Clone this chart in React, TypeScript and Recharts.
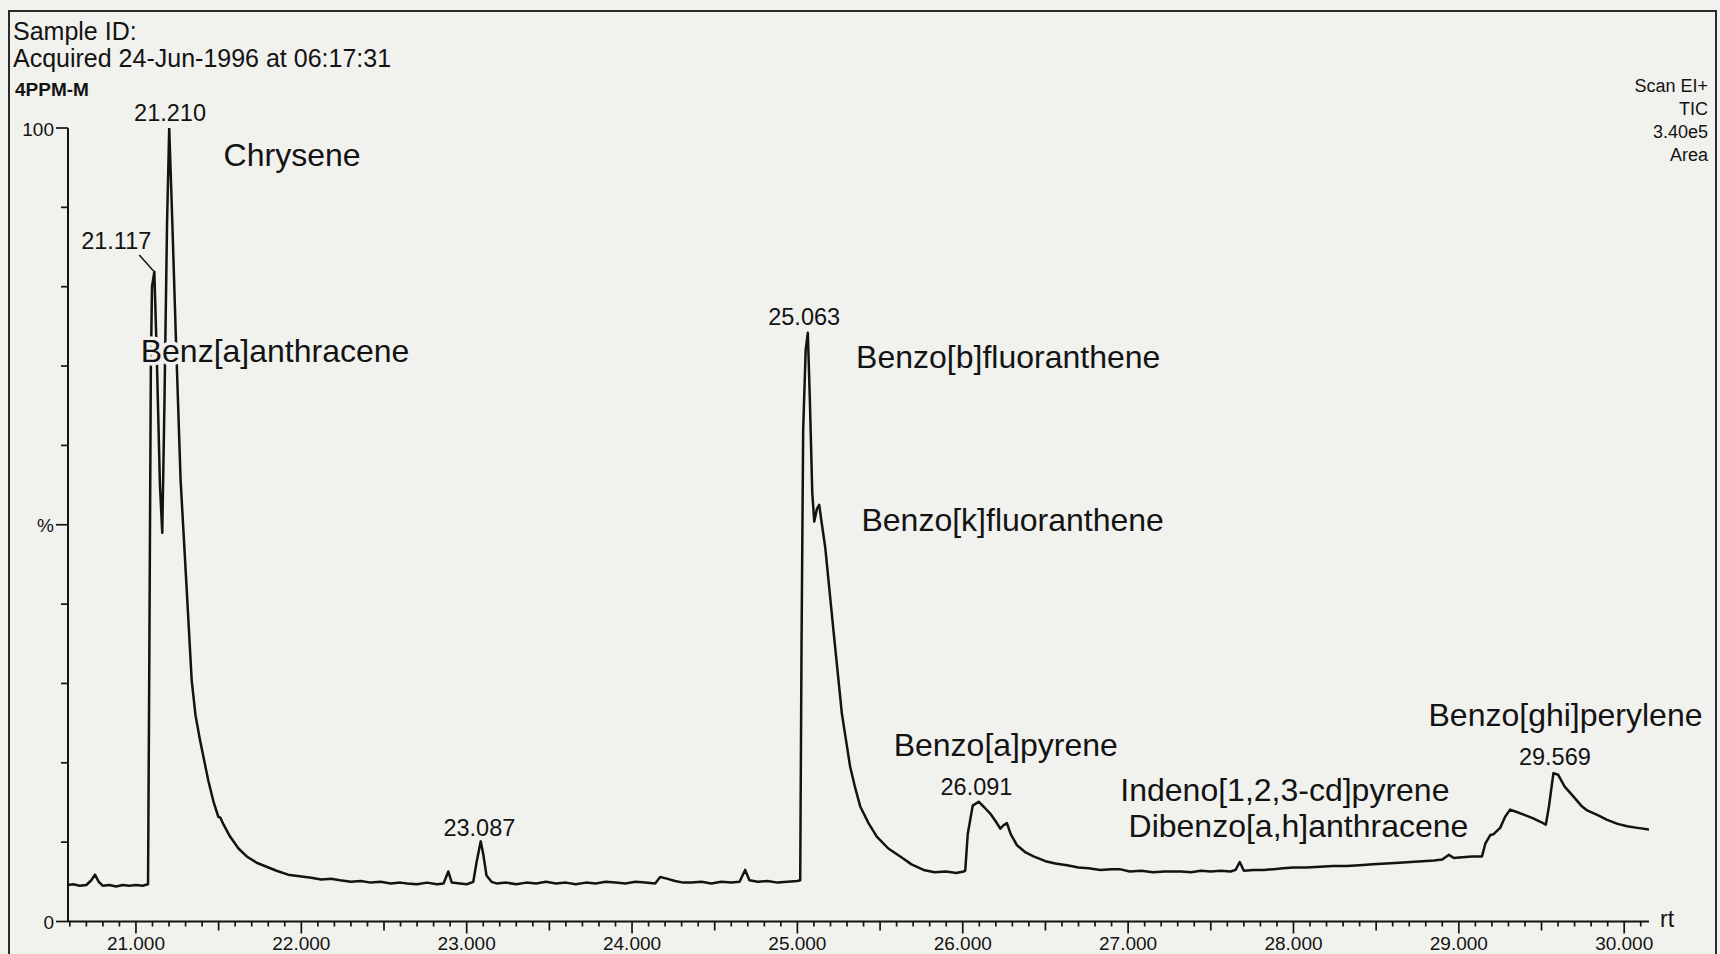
import { Line, LineChart, ReferenceDot, ReferenceLine, XAxis, YAxis } from "recharts";

const PAPER = "#f1f1ee";
const INK = "#131313";
const FONT = "'Liberation Sans', Arial, sans-serif";

// retention time (min)
const RT = [
  20.589, 20.62, 20.66, 20.7, 20.73, 20.752, 20.775, 20.8, 20.84, 20.88, 20.92, 20.96, 21.0, 21.04, 21.073,
  21.08, 21.09, 21.097, 21.111, 21.125, 21.145, 21.159, 21.172, 21.188, 21.201, 21.22, 21.24, 21.27, 21.307,
  21.337, 21.36, 21.387, 21.437, 21.47, 21.498, 21.51, 21.53, 21.569, 21.62, 21.67, 21.73, 21.79, 21.85, 21.92,
  21.99, 22.06, 22.12, 22.18, 22.234, 22.3, 22.36, 22.42, 22.48, 22.54, 22.6, 22.64, 22.7, 22.76, 22.82, 22.86,
  22.889, 22.91, 22.96, 23.0, 23.04, 23.06, 23.085, 23.1, 23.12, 23.15, 23.18, 23.24, 23.3, 23.36, 23.42, 23.48,
  23.54, 23.6, 23.66, 23.72, 23.78, 23.84, 23.9, 23.96, 24.02, 24.08, 24.14, 24.17, 24.21, 24.26, 24.31, 24.36,
  24.42, 24.48, 24.54, 24.6, 24.65, 24.684, 24.71, 24.76, 24.82, 24.88, 24.94, 25.0, 25.017, 25.025, 25.035,
  25.05, 25.063, 25.075, 25.09, 25.102, 25.118, 25.132, 25.145, 25.168, 25.218, 25.269, 25.319, 25.35, 25.38,
  25.43, 25.48, 25.55, 25.622, 25.69, 25.763, 25.83, 25.9, 25.96, 26.005, 26.015, 26.03, 26.06, 26.096, 26.13,
  26.166, 26.2, 26.227, 26.245, 26.267, 26.29, 26.328, 26.38, 26.428, 26.5, 26.56, 26.63, 26.7, 26.76, 26.832,
  26.9, 26.949, 27.01, 27.08, 27.15, 27.22, 27.28, 27.32, 27.38, 27.44, 27.5, 27.56, 27.62, 27.65, 27.675, 27.7,
  27.76, 27.82, 27.88, 27.937, 28.0, 28.08, 28.16, 28.24, 28.32, 28.4, 28.48, 28.56, 28.64, 28.708, 28.78, 28.85,
  28.9, 28.94, 28.97, 29.02, 29.08, 29.14, 29.16, 29.19, 29.21, 29.25, 29.28, 29.31, 29.35, 29.4, 29.45, 29.49,
  29.526, 29.545, 29.572, 29.6, 29.64, 29.695, 29.74, 29.776, 29.84, 29.897, 29.96, 30.018, 30.08, 30.15,
];

// total ion current, % of the largest peak
const TIC = [
  4.6, 4.7, 4.5, 4.6, 5.2, 5.9, 5.0, 4.5, 4.6, 4.4, 4.6, 4.5, 4.6, 4.5, 4.7,
  30, 70, 80, 81.9, 72, 55, 49, 65, 88, 100, 88, 74.5, 55.6, 41.8,
  30.4, 26, 22.9, 17.8, 15, 13.2, 13.1, 12.2, 10.7, 9.2, 8.2, 7.4, 6.9, 6.4, 5.9,
  5.7, 5.5, 5.3, 5.4, 5.2, 5.0, 5.1, 4.9, 5.0, 4.8, 4.9, 4.8, 4.7, 4.9, 4.7, 4.8,
  6.3, 4.9, 4.8, 4.7, 5.0, 7.5, 10.1, 8.5, 5.8, 5.0, 4.8, 4.9, 4.7, 4.9, 4.8, 5.0,
  4.8, 4.9, 4.7, 4.9, 4.8, 5.0, 4.9, 4.8, 5.0, 4.9, 4.8, 5.6, 5.4, 5.1, 4.9, 4.9,
  5.0, 4.8, 5.0, 4.9, 5.0, 6.5, 5.2, 5.0, 5.1, 4.9, 5.0, 5.1, 5.2, 35, 62,
  72, 74.2, 66, 54, 50.4, 52.0, 52.5, 50.5, 47.2, 36.7, 26.2, 19.5, 16.8, 14.5,
  12.4, 10.7, 9.2, 8.2, 7.2, 6.5, 6.2, 6.3, 6.1, 6.3, 6.4, 11, 14.6, 15.1, 14.4,
  13.6, 12.6, 11.7, 12.1, 12.4, 11.0, 9.6, 8.7, 8.2, 7.6, 7.3, 7.1, 6.8, 6.7, 6.5,
  6.6, 6.6, 6.3, 6.4, 6.2, 6.3, 6.3, 6.3, 6.2, 6.4, 6.3, 6.4, 6.3, 6.5, 7.5, 6.4,
  6.5, 6.5, 6.6, 6.7, 6.8, 6.8, 6.9, 7.0, 7.0, 7.1, 7.2, 7.3, 7.4, 7.5, 7.6, 7.7,
  7.8, 8.4, 8.0, 8.1, 8.2, 8.2, 9.8, 10.9, 11.0, 11.8, 13.2, 14.1, 13.8, 13.4, 13.0, 12.6,
  12.2, 14.5, 18.7, 18.5, 17.0, 15.7, 14.6, 14.0, 13.4, 12.8, 12.3, 12.0, 11.8, 11.6,
];

const RT_MAJOR = [21, 22, 23, 24, 25, 26, 27, 28, 29, 30];
const RT_MAJOR_LABELS = ["21.000", "22.000", "23.000", "24.000", "25.000", "26.000", "27.000", "28.000", "29.000", "30.000"];

const PCT_TICKS = [0, 10, 20, 30, 40, 50, 60, 70, 80, 90, 100];
const PCT_LABELS = ["0", "", "", "", "", "%", "", "", "", "", "100"];

// retention times printed at the peak apexes, and where they sit
const PEAK_TEXT = ["21.117", "21.210", "23.087", "25.063", "26.091", "29.569"];
const PEAK_TEXT_RT = [20.881, 21.206, 23.077, 25.041, 26.083, 29.581];
const PEAK_TEXT_PCT = [85.7, 101.9, 11.8, 76.2, 16.9, 20.7];

const COMPOUNDS = [
  "Chrysene",
  "Benz[a]anthracene",
  "Benzo[b]fluoranthene",
  "Benzo[k]fluoranthene",
  "Benzo[a]pyrene",
  "Indeno[1,2,3-cd]pyrene",
  "Dibenzo[a,h]anthracene",
  "Benzo[ghi]perylene",
];
const COMPOUND_RT = [21.944, 21.841, 26.275, 26.302, 26.26, 27.948, 28.03, 29.645];
const COMPOUND_PCT = [96.6, 71.9, 71.1, 50.6, 22.2, 16.6, 12.0, 26.0];

const HEADER_RIGHT = ["Scan EI+", "TIC", "3.40e5", "Area"];

// minor ticks every 0.1 min along the rt axis
const RT_TICKS = Array.from({ length: 96 }, (_, i) => Math.round(206 + i) / 10);

const data = RT.map((rt, i) => ({ rt, tic: TIC[i] }));

function RtTick(props: any) {
  const { x, y, payload } = props;
  const tenths = Math.round(payload.value * 10);
  const major = tenths % 10 === 0;
  const half = tenths % 5 === 0;
  const len = major ? 12 : half ? 9 : 5;
  const idx = RT_MAJOR.indexOf(tenths / 10);
  return (
    <g>
      <line x1={x} x2={x} y1={y} y2={y + len} stroke={INK} strokeWidth={1.7} />
      {major && idx >= 0 && (
        <text x={x} y={y + 28.5} textAnchor="middle" fontFamily={FONT} fontSize={19} fill={INK}>
          {RT_MAJOR_LABELS[idx]}
        </text>
      )}
    </g>
  );
}

function PctTick(props: any) {
  const { x, y, payload } = props;
  const label = PCT_LABELS[PCT_TICKS.indexOf(payload.value)] ?? "";
  const len = label ? 12 : 7;
  return (
    <g>
      <line x1={x - len} x2={x} y1={y} y2={y} stroke={INK} strokeWidth={1.7} />
      {label && (
        <text x={x - 14} y={y + 7.5} textAnchor="end" fontFamily={FONT} fontSize={19} fill={INK}>
          {label}
        </text>
      )}
    </g>
  );
}

function Note(props: any) {
  const vb = props.viewBox ?? { x: props.x, y: props.y, width: 0, height: 0 };
  const cx = vb.x + (vb.width ?? 0) / 2;
  const cy = vb.y + (vb.height ?? 0) / 2;
  return (
    <text
      x={cx}
      y={cy}
      textAnchor="middle"
      dominantBaseline="central"
      fontFamily={FONT}
      fontSize={props.size}
      fill={INK}
      stroke={PAPER}
      strokeWidth={7}
      style={{ paintOrder: "stroke" }}
    >
      {props.text}
    </text>
  );
}

export default function App() {
  return (
    <div
      style={{
        position: "absolute",
        left: 0,
        top: 0,
        width: 1720,
        height: 954,
        background: PAPER,
        overflow: "hidden",
        fontFamily: FONT,
      }}
    >
      <svg width={1720} height={954} style={{ position: "absolute", left: 0, top: 0 }}>
        <rect x={9} y={11} width={1707} height={980} fill="none" stroke="#2a2a2a" strokeWidth={2} />
        <text x={13} y={40} fontSize={25} fill={INK} fontFamily={FONT}>
          Sample ID:
        </text>
        <text x={13} y={67} fontSize={25} fill={INK} fontFamily={FONT}>
          Acquired 24-Jun-1996 at 06:17:31
        </text>
        <text x={15} y={96} fontSize={19} fontWeight={700} fill={INK} fontFamily={FONT}>
          4PPM-M
        </text>
        {HEADER_RIGHT.map((t, i) => (
          <text key={t} x={1708} y={91.5 + i * 23} textAnchor="end" fontSize={18} fill={INK} fontFamily={FONT}>
            {t}
          </text>
        ))}
        <text x={1660} y={927} fontSize={23} fill={INK} fontFamily={FONT}>
          rt
        </text>
      </svg>
      <div style={{ position: "absolute", left: 0, top: 0 }}>
        <LineChart width={1720} height={954} data={data} margin={{ top: 128, right: 71, bottom: 2.5, left: 8 }}>
          <XAxis
            type="number"
            dataKey="rt"
            domain={[20.589, 30.15]}
            allowDataOverflow
            ticks={RT_TICKS}
            interval={0}
            tick={(p: any) => <RtTick {...p} />}
            tickLine={false}
            tickSize={0}
            tickMargin={0}
            axisLine={{ stroke: INK, strokeWidth: 2 }}
            height={30}
          />
          <YAxis
            type="number"
            domain={[0, 100]}
            allowDataOverflow
            ticks={PCT_TICKS}
            interval={0}
            tick={(p: any) => <PctTick {...p} />}
            tickLine={false}
            tickSize={0}
            tickMargin={0}
            axisLine={{ stroke: INK, strokeWidth: 2 }}
            width={60}
          />
          <Line
            type="linear"
            dataKey="tic"
            stroke={INK}
            strokeWidth={2.5}
            strokeLinejoin="round"
            dot={false}
            activeDot={false}
            isAnimationActive={false}
          />
          <ReferenceLine
            segment={[
              { x: 21.02, y: 84.0 },
              { x: 21.105, y: 82.0 },
            ]}
            stroke={INK}
            strokeWidth={1.5}
            ifOverflow="visible"
          />
          {PEAK_TEXT.map((t, i) => (
            <ReferenceDot
              key={t}
              x={PEAK_TEXT_RT[i]}
              y={PEAK_TEXT_PCT[i]}
              r={0}
              fill="none"
              stroke="none"
              ifOverflow="visible"
              label={(p: any) => <Note {...p} text={t} size={23.5} />}
            />
          ))}
          {COMPOUNDS.map((c, i) => (
            <ReferenceDot
              key={c}
              x={COMPOUND_RT[i]}
              y={COMPOUND_PCT[i]}
              r={0}
              fill="none"
              stroke="none"
              ifOverflow="visible"
              label={(p: any) => <Note {...p} text={c} size={32} />}
            />
          ))}
        </LineChart>
      </div>
    </div>
  );
}
